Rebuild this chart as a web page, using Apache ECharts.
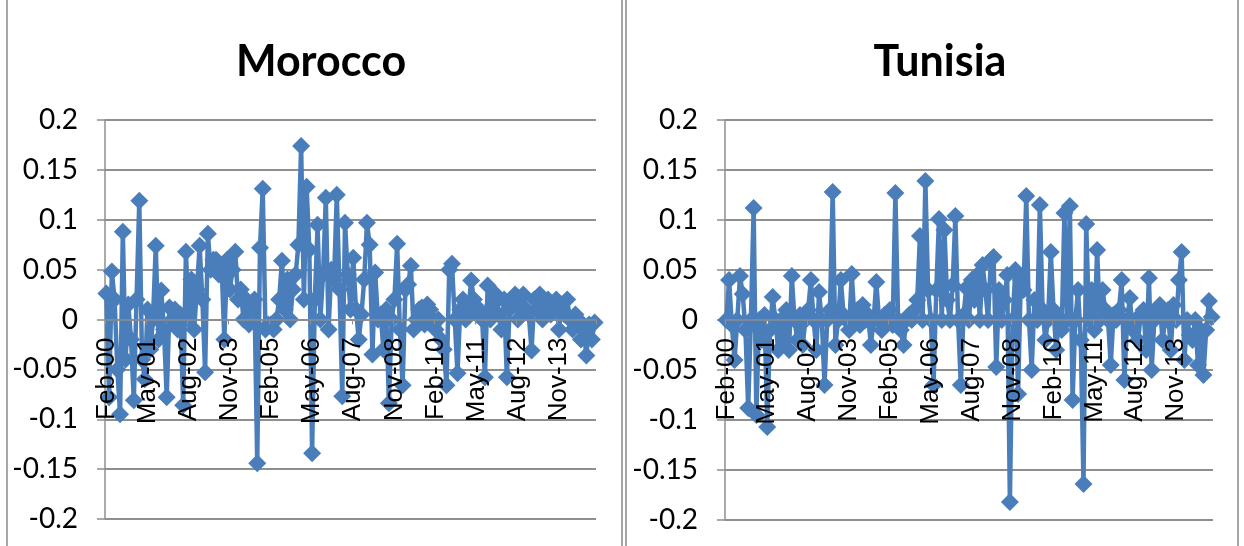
<!DOCTYPE html>
<html>
<head>
<meta charset="utf-8">
<script src="https://cdn.jsdelivr.net/npm/echarts@6/dist/echarts.min.js"></script>
<style>
html,body{margin:0;padding:0;background:#fff;}
#c{width:1244px;height:546px;}
</style>
</head>
<body>
<div id="c"></div>
<script>
// ---- data ----
var startYear = 2000, startMonth = 1, nMonths = 179; // Feb-00 ...
var monthNames = ['Jan','Feb','Mar','Apr','May','Jun','Jul','Aug','Sep','Oct','Nov','Dec'];
var categories = [];
for (var i = 0; i < nMonths; i++) {
  var m = (startMonth + i) % 12;
  var y = startYear + Math.floor((startMonth + i) / 12);
  categories.push(monthNames[m] + '-' + String(y % 100).padStart(2, '0'));
}

var titles = ['Morocco', 'Tunisia'];
var yTicks = { min: -0.2, max: 0.2, interval: 0.05 };

var morocco = [
  0.026, -0.078, 0.048, 0.020, -0.050, -0.095, 0.088, -0.040, 0.015, -0.020,
  -0.081, 0.020, 0.119, -0.040, -0.060, 0.010, -0.030, 0.000, 0.074, -0.020,
  0.029, -0.010, -0.078, 0.012, 0.000, 0.010, -0.010, 0.005, -0.086, 0.068,
  0.000, 0.040, -0.010, 0.030, 0.074, 0.020, -0.053, 0.086, 0.050, 0.060,
  0.060, 0.045, 0.055, -0.020, 0.060, 0.030, 0.050, 0.068, 0.020, 0.030,
  0.000, 0.020, -0.005, 0.010, 0.020, -0.144, 0.072, 0.131, -0.010, -0.005,
  -0.005, -0.010, 0.000, 0.020, 0.059, 0.010, 0.040, 0.000, 0.030, 0.045,
  0.075, 0.174, 0.020, 0.133, 0.070, -0.134, 0.020, 0.095, 0.000, 0.045,
  0.122, -0.010, 0.050, 0.040, 0.125, 0.030, -0.077, 0.097, 0.045, 0.010,
  0.062, 0.010, -0.020, 0.005, 0.040, 0.097, 0.075, -0.035, 0.047, 0.000,
  0.005, -0.030, 0.010, -0.084, 0.000, 0.020, 0.076, -0.010, -0.066, 0.030,
  0.035, 0.054, -0.010, 0.000, 0.010, 0.012, -0.005, 0.015, 0.010, 0.000,
  -0.010, 0.000, -0.020, -0.030, -0.066, 0.050, 0.056, 0.000, -0.054, 0.010,
  0.020, 0.000, 0.010, 0.039, 0.020, 0.005, 0.010, 0.000, -0.058, 0.034,
  0.000, 0.015, 0.025, 0.005, -0.010, 0.020, -0.058, 0.010, 0.020, 0.025,
  0.000, 0.015, 0.025, 0.010, 0.005, -0.031, 0.020, 0.010, 0.025, 0.000,
  0.015, 0.020, 0.005, 0.010, 0.020, -0.010, 0.015, 0.005, 0.020, 0.000,
  -0.010, 0.005, 0.000, -0.020, -0.010, -0.036, -0.005, -0.020, -0.003
];

var tunisia = [
  0.000, 0.040, -0.005, -0.040, 0.000, 0.044, 0.026, -0.010, -0.088, 0.000,
  0.112, -0.095, 0.000, -0.020, 0.005, -0.107, -0.010, 0.023, 0.000, -0.030,
  0.000, -0.020, 0.010, -0.030, 0.044, 0.000, -0.020, 0.005, -0.025, 0.000,
  0.010, 0.040, 0.000, -0.030, 0.028, 0.000, -0.065, 0.000, 0.010, 0.128,
  -0.025, 0.000, 0.040, 0.005, 0.000, -0.010, 0.046, 0.000, 0.010, -0.005,
  0.015, 0.000, 0.005, -0.025, 0.000, 0.038, 0.000, -0.010, 0.005, 0.000,
  0.010, -0.005, 0.127, 0.000, -0.010, -0.025, 0.000, 0.005, 0.000, 0.010,
  0.020, 0.084, 0.000, 0.139, 0.030, 0.000, -0.065, 0.030, 0.101, 0.000,
  0.090, 0.020, 0.000, 0.035, 0.104, 0.000, -0.065, 0.005, 0.032, 0.000,
  0.040, 0.020, 0.045, 0.000, 0.055, 0.030, 0.000, 0.060, 0.063, -0.047,
  0.030, 0.000, 0.020, 0.045, -0.182, 0.000, 0.050, -0.074, 0.040, 0.030,
  0.124, 0.000, -0.050, 0.020, 0.000, 0.115, 0.010, -0.020, 0.000, 0.068,
  0.010, -0.030, 0.000, -0.010, 0.107, 0.000, 0.114, -0.080, 0.000, 0.030,
  -0.020, -0.164, 0.096, 0.000, 0.030, -0.010, 0.070, 0.000, 0.030, 0.010,
  0.000, -0.045, 0.005, 0.000, 0.010, 0.040, -0.060, 0.000, 0.022, -0.010,
  0.000, -0.020, 0.005, 0.010, -0.030, 0.042, -0.050, 0.000, 0.010, 0.015,
  -0.020, 0.000, 0.010, -0.030, 0.015, 0.000, 0.040, 0.068, -0.040, 0.000,
  -0.015, -0.020, 0.000, -0.045, -0.010, -0.055, -0.010, 0.019, 0.003
];

// ---- chart ----
var chart = echarts.init(document.getElementById('c'), null, {renderer: 'canvas'});
var lineColor = '#4a7ebb';
var gridColor = '#8f8f8f';
var grids = [
  {left: 105, right: 648, top: 120, bottom: 27, outerBoundsMode: 'none', containLabel: false},
  {left: 725, right: 31, top: 120, bottom: 26, outerBoundsMode: 'none', containLabel: false}
];
function xAxis(idx) {
  var h = 546 - grids[idx].top - grids[idx].bottom;
  return {
    type: 'category', gridIndex: idx, data: categories, boundaryGap: true,
    position: 'bottom', offset: -h / 2, z: 10,
    axisLine: {onZero: false, lineStyle: {color: gridColor, width: 1.5}},
    axisTick: {show: true, interval: 14, length: 5, lineStyle: {color: gridColor}},
    axisLabel: {interval: 14, rotate: 90, margin: 18, color: '#000',
      fontFamily: 'Liberation Sans', fontSize: 26, hideOverlap: false},
    splitLine: {show: false}
  };
}
function yAxis(idx) {
  return {
    type: 'value', gridIndex: idx, min: yTicks.min, max: yTicks.max, interval: yTicks.interval,
    z: 1,
    axisLine: {show: true, lineStyle: {color: gridColor, width: 1.5}},
    axisTick: {show: true, length: 8, lineStyle: {color: gridColor, width: 1.5}},
    axisLabel: {color: '#000', fontFamily: 'Lato', fontSize: 28, margin: 27,
      formatter: function (v) { return String(parseFloat(v.toFixed(2))); }},
    splitLine: {show: true, lineStyle: {color: gridColor, width: 2}}
  };
}
function series(idx, data) {
  return {
    type: 'line', xAxisIndex: idx, yAxisIndex: idx, data: data,
    symbol: 'diamond', symbolSize: 18, showAllSymbol: true,
    lineStyle: {color: lineColor, width: 4.5},
    itemStyle: {color: lineColor},
    animation: false, z: 3
  };
}
chart.setOption({
  animation: false,
  title: [
    {text: titles[0], left: 316, top: 36, textAlign: 'center',
     textStyle: {fontFamily: 'Lato', fontWeight: 'bold', fontSize: 43, color: '#000'}},
    {text: titles[1], left: 935, top: 36, textAlign: 'center',
     textStyle: {fontFamily: 'Lato', fontWeight: 'bold', fontSize: 43, color: '#000'}}
  ],
  grid: grids,
  xAxis: [xAxis(0), xAxis(1)],
  yAxis: [yAxis(0), yAxis(1)],
  series: [series(0, morocco), series(1, tunisia)],
  graphic: [
    {type: 'rect', shape: {x: 7, y: -5, width: 615, height: 560},
     style: {fill: null, stroke: '#a6a6a6', lineWidth: 2}, silent: true},
    {type: 'rect', shape: {x: 626, y: -5, width: 612, height: 560},
     style: {fill: null, stroke: '#a6a6a6', lineWidth: 2}, silent: true}
  ]
});
</script>
</body>
</html>
